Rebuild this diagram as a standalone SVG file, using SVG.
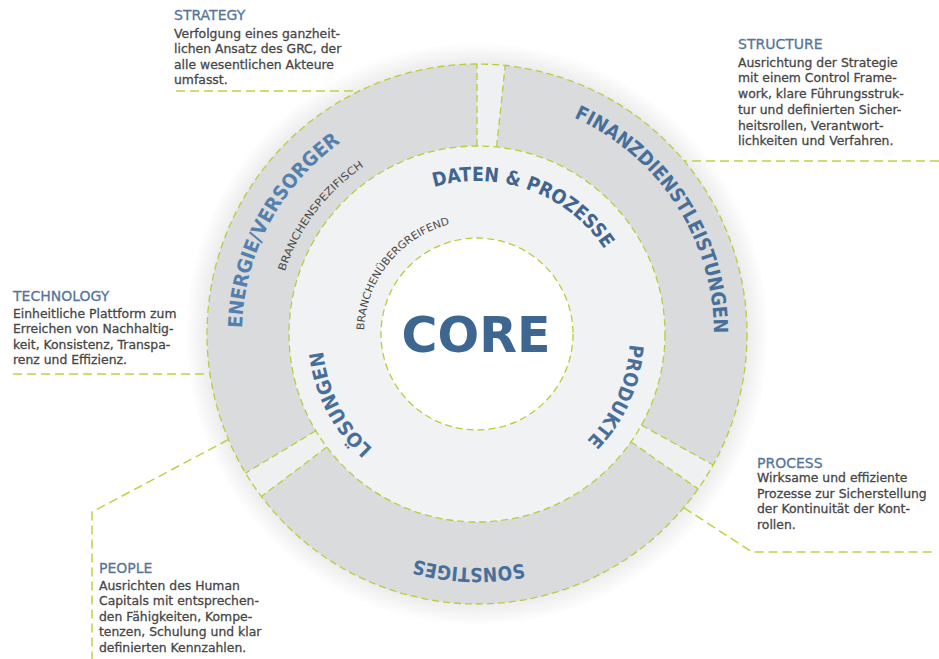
<svg xmlns="http://www.w3.org/2000/svg" width="939" height="659" viewBox="0 0 939 659">
<defs>
<style>
.dash{fill:none;stroke:#bccb3e;stroke-width:1.3;stroke-dasharray:7 4}
.conn{fill:none;stroke:#c2cf45;stroke-width:1.5;stroke-dasharray:9 5}
.sec{fill:#dadbdc;stroke:none}
.h{font-family:"DejaVu Sans",sans-serif;font-size:14px;fill:#57769a;stroke:#57769a;stroke-width:0.3}
.b{font-family:"DejaVu Sans",sans-serif;font-size:12.4px;fill:#474747;stroke:#474747;stroke-width:0.3}
.ring{font-family:"DejaVu Sans",sans-serif;font-weight:bold;font-size:19.5px;fill:#476f9a}
.small{font-family:"DejaVu Sans",sans-serif;font-size:10.5px;fill:#4a4a4a}
</style>
<radialGradient id="halo" cx="477" cy="334" r="292" gradientUnits="userSpaceOnUse">
<stop offset="0.9" stop-color="#e6e6e6"/>
<stop offset="1" stop-color="#ffffff"/>
</radialGradient>
<path id="pEnergie" d="M332.3,519.2 A235,235 0 0 1 549.6,110.5"/>
<path id="pFinanz" d="M384.4,115.8 A237,237 0 0 1 638.6,507.3"/>
<path id="pSonst" d="M705.9,382.7 A234,234 0 0 1 245.3,366.6"/>
<path id="pDaten" d="M344.5,257.5 A153,153 0 0 1 627.7,360.6"/>
<path id="pProd" d="M562.6,207.2 A153,153 0 0 1 440,482.5"/>
<path id="pLoes" d="M522.3,482.2 A155,155 0 0 1 383.7,210.2"/>
<path id="pSpez" d="M329.3,471.8 A202,202 0 0 1 568.7,154"/>
<path id="pUeber" d="M391.7,408.1 A113,113 0 0 1 531.8,235.2"/>
</defs>

<rect width="939" height="659" fill="#ffffff"/>
<circle cx="477" cy="334" r="292" fill="url(#halo)"/>
<circle cx="477" cy="334" r="270" fill="#eff0f1"/>

<g id="energie">
<path class="sec" d="M245.6,473.1 A270,270 0 0 1 477,64 L477,146 A188,188 0 0 0 315.8,430.8 Z"/>
<line class="dash" x1="477" y1="146" x2="477" y2="64"/>
<line class="dash" x1="315.8" y1="430.8" x2="245.6" y2="473.1"/>
<text class="ring" fill="#5580ad" style="fill:#5580ad"><textPath href="#pEnergie" startOffset="50%" text-anchor="middle" textLength="218" lengthAdjust="spacingAndGlyphs">ENERGIE/VERSORGER</textPath></text>
<text class="small"><textPath href="#pSpez" startOffset="50%" text-anchor="middle" textLength="134" lengthAdjust="spacingAndGlyphs">BRANCHENSPEZIFISCH</textPath></text>
</g>

<g id="finanz">
<path class="sec" d="M505.2,65.5 A270,270 0 0 1 713.1,464.9 L641.4,425.1 A188,188 0 0 0 496.6,147 Z"/>
<line class="dash" x1="496.6" y1="147" x2="505.2" y2="65.5"/>
<line class="dash" x1="641.4" y1="425.1" x2="713.1" y2="464.9"/>
<text class="ring"><textPath href="#pFinanz" startOffset="50%" text-anchor="middle" textLength="272" lengthAdjust="spacingAndGlyphs">FINANZDIENSTLEISTUNGEN</textPath></text>
</g>

<g id="sonstiges">
<path class="sec" d="M698.2,488.9 A270,270 0 0 1 261.4,496.5 L326.9,447.1 A188,188 0 0 0 631,441.8 Z"/>
<line class="dash" x1="631" y1="441.8" x2="698.2" y2="488.9"/>
<line class="dash" x1="326.9" y1="447.1" x2="261.4" y2="496.5"/>
<text class="ring"><textPath href="#pSonst" startOffset="50%" text-anchor="middle" textLength="110" lengthAdjust="spacingAndGlyphs">SONSTIGES</textPath></text>
</g>

<circle class="dash" cx="477" cy="334" r="270"/>

<g id="inner-ring">
<circle cx="477" cy="334" r="188" fill="#f1f2f3"/>
<circle class="dash" cx="477" cy="334" r="188"/>
<text class="ring" style="fill:#3f6690"><textPath href="#pDaten" startOffset="50%" text-anchor="middle" textLength="194" lengthAdjust="spacingAndGlyphs">DATEN &amp; PROZESSE</textPath></text>
<text class="ring"><textPath href="#pProd" startOffset="50%" text-anchor="middle" textLength="108" lengthAdjust="spacingAndGlyphs">PRODUKTE</textPath></text>
<text class="ring"><textPath href="#pLoes" startOffset="50%" text-anchor="middle" textLength="112" lengthAdjust="spacingAndGlyphs">LÖSUNGEN</textPath></text>
<text class="small"><textPath href="#pUeber" startOffset="50%" text-anchor="middle" textLength="146" lengthAdjust="spacingAndGlyphs">BRANCHENÜBERGREIFEND</textPath></text>
</g>

<g id="core">
<circle cx="477" cy="334" r="96" fill="#ffffff"/>
<circle class="dash" cx="477" cy="334" r="96"/>
<text x="476" y="352" text-anchor="middle" font-family="'DejaVu Sans',sans-serif" font-weight="bold" font-size="49" fill="#3d6690">CORE</text>
</g>

<g id="connectors">
<polyline class="conn" points="176,91 359,91"/>
<polyline class="conn" points="939,161 684,161"/>
<polyline class="conn" points="13,374 210,374"/>
<polyline class="conn" points="683.8,507.6 752,552 932,552"/>
<polyline class="conn" points="228.5,439.5 92,512 92,659"/>
</g>

<g id="strategy">
<text class="h" x="174" y="19.5">STRATEGY</text>
<text class="b" x="174" y="37.5">Verfolgung eines ganzheit-</text>
<text class="b" x="174" y="53">lichen Ansatz des GRC, der</text>
<text class="b" x="174" y="68.5">alle wesentlichen Akteure</text>
<text class="b" x="174" y="84">umfasst.</text>
</g>

<g id="structure">
<text class="h" x="738" y="48.5">STRUCTURE</text>
<text class="b" x="738" y="66.5">Ausrichtung der Strategie</text>
<text class="b" x="738" y="82">mit einem Control Frame-</text>
<text class="b" x="738" y="98">work, klare Führungsstruk-</text>
<text class="b" x="738" y="113.5">tur und definierten Sicher-</text>
<text class="b" x="738" y="129.5">heitsrollen, Verantwort-</text>
<text class="b" x="738" y="145">lichkeiten und Verfahren.</text>
</g>

<g id="technology">
<text class="h" x="13" y="300.5">TECHNOLOGY</text>
<text class="b" x="13" y="317.5" font-size="13">Einheitliche Plattform zum</text>
<text class="b" x="13" y="333" font-size="13">Erreichen von Nachhaltig-</text>
<text class="b" x="13" y="348.5" font-size="13">keit, Konsistenz, Transpa-</text>
<text class="b" x="13" y="364" font-size="13">renz und Effizienz.</text>
</g>

<g id="process">
<text class="h" x="757" y="468.3">PROCESS</text>
<text class="b" x="757" y="482">Wirksame und effiziente</text>
<text class="b" x="757" y="497.5">Prozesse zur Sicherstellung</text>
<text class="b" x="757" y="513">der Kontinuität der Kont-</text>
<text class="b" x="757" y="528.5">rollen.</text>
</g>

<g id="people">
<text class="h" x="99" y="573.3">PEOPLE</text>
<text class="b" x="99" y="589.5">Ausrichten des Human</text>
<text class="b" x="99" y="605">Capitals mit entsprechen-</text>
<text class="b" x="99" y="620.5">den Fähigkeiten, Kompe-</text>
<text class="b" x="99" y="636">tenzen, Schulung und klar</text>
<text class="b" x="99" y="651.5">definierten Kennzahlen.</text>
</g>
</svg>
